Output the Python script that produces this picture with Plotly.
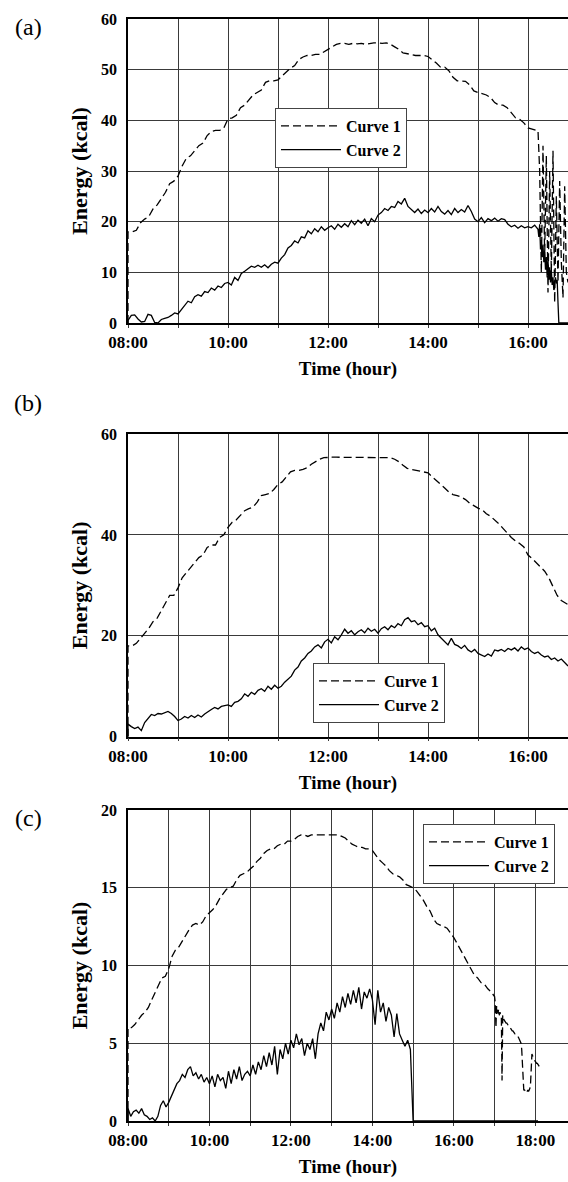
import numpy as np
import plotly.graph_objects as go

# ---------------- tick labels ----------------
ticks_ab = list(range(8, 17))
ticktext_ab = ["08:00", "", "10:00", "", "12:00", "", "14:00", "", "16:00"]
ticks_c = list(range(8, 19))
ticktext_c = ["08:00", "", "10:00", "", "12:00", "", "14:00", "", "16:00", "", "18:00"]

# ---------------- panel (a) ----------------
# Curve 1, every 5 min from 08:00 to 16:10
a_curve1 = [
    18.0, 18.0, 18.3, 19.8, 20.5, 21.0, 22.5, 23.3, 24.5, 25.8, 27.5, 28.0,
    29.0, 31.0, 32.5, 33.0, 34.0, 35.0, 35.5, 37.0, 37.8, 38.0, 38.0, 38.5,
    40.3, 40.5, 41.0, 42.5, 43.0, 44.0, 45.0, 45.5, 46.0, 47.5, 47.8, 47.8,
    48.0, 48.8, 49.5, 50.3, 50.8, 52.0, 52.5, 52.8, 52.8, 53.0, 53.0, 53.5,
    54.0, 54.5, 55.0, 55.2, 55.2, 55.0, 55.2, 55.1, 55.2, 55.0, 55.2, 55.3,
    55.3, 55.2, 55.3, 55.0, 54.5, 54.0, 53.3, 53.2, 53.0, 52.8, 52.8, 52.8,
    52.6, 52.0, 51.3, 50.5, 50.5, 49.8, 48.5, 47.8, 47.8, 47.7, 47.0, 45.8,
    45.5, 45.3, 45.0, 44.5, 43.5, 43.0, 43.0, 42.5, 41.5, 40.5, 40.2, 39.5,
    38.5, 38.2, 38.0,
]
# Curve 1, every 2 min from 16:12 to 16:48
a_curve1_tail = [
    38.0, 30.0, 10.0, 35.0, 13.0, 33.0, 6.0, 30.0, 10.0, 34.0,
    4.0, 25.0, 8.0, 28.0, 12.0, 5.0, 27.0, 10.0, 8.0,
]
# Curve 2, every 4 min from 08:00 to 16:12
a_curve2 = [
    0.5, 1.5, 1.6, 0.8, 0.2, 0.3, 1.7, 1.5, 0.1, 0.0, 0.7, 0.9, 1.1, 1.5, 2.0,
    1.8, 2.6, 3.5, 4.3, 4.0, 5.2, 5.6, 5.3, 6.2, 6.0, 6.9, 6.5, 7.3, 7.0, 7.8,
    8.0, 7.5, 9.0, 8.4, 9.8, 10.2, 10.8, 11.2, 11.0, 11.4, 11.0, 11.5, 10.9, 11.6, 12.0,
    11.8, 12.8, 13.5, 14.8, 15.3, 16.2, 15.8, 17.0, 16.8, 18.2, 17.6, 18.6, 18.0, 19.0, 18.3,
    18.8, 19.2, 18.5, 19.5, 18.9, 19.6, 19.0, 20.2, 19.4, 20.3, 19.7, 20.5, 19.2, 20.6, 20.0,
    21.3, 21.8, 22.6, 22.2, 23.0, 22.8, 24.0, 23.5, 24.6, 23.0, 22.4, 21.8, 22.5, 21.6, 22.3,
    21.8, 22.6, 21.9, 23.0, 22.0, 21.5, 22.2, 21.4, 22.6, 21.8, 22.4, 21.9, 23.2, 22.0, 20.5,
    20.0, 20.8, 19.8, 20.6, 20.2, 20.7, 20.1, 20.6, 20.4, 19.5, 19.0, 19.3, 18.7, 19.2, 18.8,
    19.0, 18.8, 19.3, 18.5,
]
# Curve 2, every minute from 16:13 to 16:48
a_curve2_tail = [
    17.0, 19.5, 14.5, 16.0, 13.0, 15.5, 12.0, 14.0, 10.5, 13.0, 9.0, 12.5,
    8.5, 11.0, 8.0, 10.5, 7.5, 9.0, 6.5, 8.2, 9.0, 7.8, 8.5, 4.0, 0.0, 0.0,
    0.0, 0.0, 0.0, 0.0, 0.0, 0.0, 0.0, 0.0, 0.0, 0.0,
]

# ---------------- panel (b) ----------------
# Curve 1, every 5 min from 08:00 to 16:50
b_curve1 = [
    18.0, 18.0, 18.5, 19.5, 20.5, 21.5, 22.8, 23.5, 25.0, 26.5, 28.0, 28.0,
    29.5, 31.5, 32.5, 33.5, 34.5, 35.5, 36.0, 37.5, 38.0, 38.0, 39.5, 40.0,
    41.5, 42.5, 43.0, 44.0, 44.8, 45.2, 45.5, 46.5, 47.8, 48.0, 48.2, 49.0,
    50.0, 50.5, 51.5, 52.5, 52.8, 52.8, 53.0, 53.3, 54.0, 54.5, 55.0, 55.3,
    55.4, 55.4, 55.4, 55.4, 55.4, 55.4, 55.4, 55.4, 55.4, 55.4, 55.4, 55.4,
    55.4, 55.4, 55.4, 55.3, 55.0, 54.5, 53.8, 53.2, 53.0, 52.8, 52.7, 52.5,
    52.3, 51.5, 50.8, 50.0, 49.3, 48.5, 48.0, 47.8, 47.5, 47.0, 46.3, 45.8,
    45.3, 45.0, 44.2, 43.7, 43.0, 42.2, 41.3, 40.3, 39.5, 38.8, 38.3, 37.6,
    36.0, 35.3, 34.5, 33.8, 32.8, 31.5, 29.8, 28.0, 27.0, 26.5, 26.0,
]
# Curve 2, every 4 min from 08:00 to 16:48
b_curve2 = [
    2.5, 2.0, 1.6, 1.9, 1.2, 2.8, 3.5, 4.4, 4.2, 4.6, 4.5, 4.8, 5.0, 4.6, 4.0,
    3.2, 3.5, 4.0, 3.7, 4.2, 3.8, 4.3, 3.9, 4.5, 5.0, 5.4, 5.8, 5.5, 6.0, 6.2,
    6.3, 6.0, 6.8, 7.0, 7.5, 8.5, 8.0, 8.8, 8.4, 9.2, 9.5, 9.0, 10.0, 9.4, 10.2,
    9.6, 10.0, 10.8, 11.5, 12.0, 13.2, 13.8, 15.0, 15.6, 16.5, 17.0, 17.8, 18.2, 17.6, 18.8,
    19.3, 18.6, 19.8, 19.2, 20.2, 21.3, 20.5, 21.0, 20.2, 20.8, 21.2, 20.6, 21.5, 20.9, 21.3,
    20.5, 21.4, 21.8, 21.2, 22.0, 21.6, 22.4, 22.0, 23.2, 23.6, 22.8, 23.0, 22.2, 22.6, 21.8,
    22.0, 21.0, 21.5, 20.2, 19.5, 18.8, 18.2, 19.5, 18.3, 18.0, 17.5, 18.1, 17.2, 16.8, 17.3,
    16.5, 16.2, 15.9, 16.4, 16.0, 17.2, 17.0, 17.3, 16.9, 17.5, 17.2, 17.6, 17.0, 17.8, 17.3,
    17.6, 16.9, 16.5, 16.8, 16.2, 15.8, 16.0, 15.3, 15.6, 15.0, 15.4, 14.6, 14.0,
]

# ---------------- panel (c) ----------------
# Curve 1, every 5 min from 08:00 to 17:00
c_curve1 = [
    6.0, 6.0, 6.2, 6.5, 6.8, 7.0, 7.3, 7.8, 8.3, 8.8, 9.2, 9.3,
    9.8, 10.6, 11.0, 11.2, 11.6, 12.0, 12.3, 12.6, 12.7, 12.6, 12.8, 13.2,
    13.4, 13.6, 13.9, 14.3, 14.6, 14.9, 15.0, 15.1, 15.5, 15.8, 15.9, 16.0,
    16.2, 16.4, 16.7, 16.9, 17.2, 17.4, 17.5, 17.5, 17.7, 17.8, 17.8, 18.0,
    18.0, 18.1, 18.3, 18.4, 18.4, 18.3, 18.4, 18.4, 18.4, 18.4, 18.4, 18.4,
    18.4, 18.4, 18.4, 18.3, 18.2, 18.0, 17.8, 17.7, 17.6, 17.6, 17.5, 17.5,
    17.4, 17.1, 16.8, 16.6, 16.4, 16.1, 15.9, 15.8, 15.7, 15.5, 15.2, 15.1,
    15.0, 14.8, 14.5, 14.2, 13.8, 13.5, 13.0, 12.7, 12.6, 12.5, 12.4, 12.1,
    11.8, 11.4, 11.0, 10.6, 10.2, 9.8, 9.4, 9.2, 8.9, 8.8, 8.5, 8.3,
    8.0,
]
# Curve 1, every minute from 17:01 to 18:06
c_curve1_tail = [
    7.6, 6.0, 7.4, 7.2, 6.9, 7.2, 6.8, 7.0, 6.9, 6.7, 2.6, 6.8, 6.6, 6.5, 6.4,
    6.4, 6.3, 6.3, 6.2, 6.1, 6.1, 6.0, 6.0, 5.9, 5.9, 5.8, 5.8, 5.7, 5.7, 5.6,
    5.6, 5.5, 5.5, 5.4, 5.4, 5.3, 5.2, 5.1, 5.0, 4.6, 3.8, 2.5, 2.0, 2.0, 1.9,
    1.9, 2.0, 1.9, 2.0, 1.9, 2.0, 2.1, 2.4, 3.5, 4.3, 4.2, 4.0, 4.0, 3.9, 3.8,
    3.8, 3.7, 3.7, 3.6, 3.6, 3.5,
]
# Curve 2, every 4 min from 08:00 to 18:04
c_curve2 = [
    0.8, 0.3, 0.6, 0.7, 0.5, 0.8, 0.4, 0.3, 0.1, 0.2, 0.0, 0.3, 1.0, 1.3, 0.9,
    1.2, 1.6, 2.1, 2.4, 2.6, 3.0, 2.8, 3.3, 3.5, 2.9, 3.1, 2.7, 3.0, 2.5, 2.8,
    2.4, 2.9, 2.2, 3.0, 2.6, 2.8, 2.1, 3.2, 2.4, 3.3, 2.7, 3.5, 2.6, 3.0, 3.2,
    2.9, 3.6, 3.0, 3.8, 3.3, 4.2, 3.5, 4.4, 3.6, 4.8, 3.0, 4.6, 4.0, 5.0, 4.3,
    5.2, 4.7, 5.6, 4.9, 5.3, 4.2, 5.0, 4.6, 5.3, 4.0, 5.6, 6.3, 5.8, 7.0, 6.5,
    7.2, 6.6, 7.6, 7.0, 8.0, 7.3, 8.2, 7.5, 8.4, 7.6, 8.6, 7.2, 8.3, 7.9, 8.5,
    7.8, 6.2, 8.4, 7.0, 7.6, 6.4, 7.3, 6.8, 5.4, 6.9, 5.6, 5.2, 4.8, 5.2, 4.6,
    0.0, 0.0, 0.0, 0.0, 0.0, 0.0, 0.0, 0.0, 0.0, 0.0, 0.0, 0.0, 0.0, 0.0, 0.0,
    0.0, 0.0, 0.0, 0.0, 0.0, 0.0, 0.0, 0.0, 0.0, 0.0, 0.0, 0.0, 0.0, 0.0, 0.0,
    0.0, 0.0, 0.0, 0.0, 0.0, 0.0, 0.0, 0.0, 0.0, 0.0, 0.0, 0.0, 0.0, 0.0, 0.0,
    0.0, 0.0,
]


def times(start_h, step_min, n):
    return start_h + np.arange(n) * step_min / 60.0


def series(main, step, tail=None, tail_start=None, tail_step=1):
    # a vertical start at 08:00 from zero, then the sampled values
    x = [np.array([8.0]), times(8.0, step, len(main))]
    y = [0.0] + list(main)
    if tail is not None:
        x.append(times(tail_start, tail_step, len(tail)))
        y += list(tail)
    return np.concatenate(x), y


SERIF = "Liberation Serif, Times New Roman, serif"
DASH = "8px,4px"
LW = 1.3

panels = [
    dict(c1=series(a_curve1, 5, a_curve1_tail, 16 + 12 / 60, 2),
         c2=series(a_curve2, 4, a_curve2_tail, 16 + 13 / 60)),
    dict(c1=series(b_curve1, 5), c2=series(b_curve2, 4)),
    dict(c1=series(c_curve1, 5, c_curve1_tail, 17 + 1 / 60),
         c2=series(c_curve2, 4)),
]

fig = go.Figure()
legend_names = ["legend", "legend2", "legend3"]
for i, p in enumerate(panels):
    sfx = "" if i == 0 else str(i + 1)
    fig.add_trace(go.Scatter(
        x=p["c1"][0], y=p["c1"][1], mode="lines", name="Curve 1",
        line=dict(color="black", width=LW, dash=DASH),
        xaxis="x" + sfx, yaxis="y" + sfx, legend=legend_names[i]))
    fig.add_trace(go.Scatter(
        x=p["c2"][0], y=p["c2"][1], mode="lines", name="Curve 2",
        line=dict(color="black", width=LW),
        xaxis="x" + sfx, yaxis="y" + sfx, legend=legend_names[i]))

H = 1182
T, B = 19, 61
ph = H - T - B


def dom(top_px, bot_px):
    return [(H - B - bot_px) / ph, (H - B - top_px) / ph]


ydoms = [dom(19, 323), dom(434, 736.7), dom(810, 1121)]
yranges = [[0, 60], [0, 60], [0, 20]]
ydticks = [10, 20, 5]
xranges = [[8, 16.8], [8, 16.8], [8, 8 + 440 / 40.73]]
xticks = [(ticks_ab, ticktext_ab), (ticks_ab, ticktext_ab), (ticks_c, ticktext_c)]

tickfont = dict(family=SERIF, size=16, color="black", weight="bold")
xtitlefont = dict(family=SERIF, size=19, color="black", weight="bold")
ytitlefont = dict(family=SERIF, size=22, color="black", weight="bold")
GRID = "#3a3a3a"

layout = dict(
    width=568, height=H,
    margin=dict(l=128, r=0, t=T, b=B),
    paper_bgcolor="white", plot_bgcolor="white",
    showlegend=True,
)
for i in range(3):
    sfx = "" if i == 0 else str(i + 1)
    layout["xaxis" + sfx] = dict(
        domain=[0, 1], anchor="y" + sfx, range=xranges[i],
        tickmode="array", tickvals=xticks[i][0], ticktext=xticks[i][1],
        showgrid=True, gridcolor=GRID, gridwidth=1, zeroline=False,
        showline=True, linecolor="black", linewidth=1.5, mirror=True,
        ticks="outside", ticklen=3, tickcolor=GRID,
        tickfont=dict(family=SERIF, size=17, color="black", weight="bold"),
        title=dict(text="Time (hour)", font=xtitlefont, standoff=11),
    )
    layout["yaxis" + sfx] = dict(
        domain=ydoms[i], anchor="x" + sfx, range=yranges[i], dtick=ydticks[i],
        showgrid=True, gridcolor=GRID, gridwidth=1, zeroline=False,
        showline=True, linecolor="black", linewidth=1.5,
        ticks="", ticklabelstandoff=6, tickfont=tickfont,
        title=dict(text="Energy (kcal)", font=ytitlefont, standoff=7),
    )

legend_pos = [(275, 108), (313, 663), (423, 824)]
for name, (lx, ly) in zip(legend_names, legend_pos):
    layout[name] = dict(
        x=(lx - 128) / 440, y=(H - B - ly) / ph, xanchor="left", yanchor="top",
        bgcolor="white", bordercolor="#444", borderwidth=1,
        font=dict(family=SERIF, size=16, color="black", weight="bold"),
        itemwidth=60, tracegroupgap=0,
    )

panel_labels = ["(a)", "(b)", "(c)"]
panel_label_y = [27, 403, 818]
annotations = []
for lab, yy in zip(panel_labels, panel_label_y):
    annotations.append(dict(
        text=lab, xref="paper", yref="paper", x=(28 - 128) / 440,
        y=(H - B - yy) / ph, xanchor="center", yanchor="middle",
        showarrow=False, font=dict(family=SERIF, size=24, color="black")))
layout["annotations"] = annotations

fig.update_layout(**layout)
fig.write_html(
    "out.html",
    config={"displayModeBar": False},
    post_script="document.body.style.margin='0';document.body.style.overflow='hidden';",
)
